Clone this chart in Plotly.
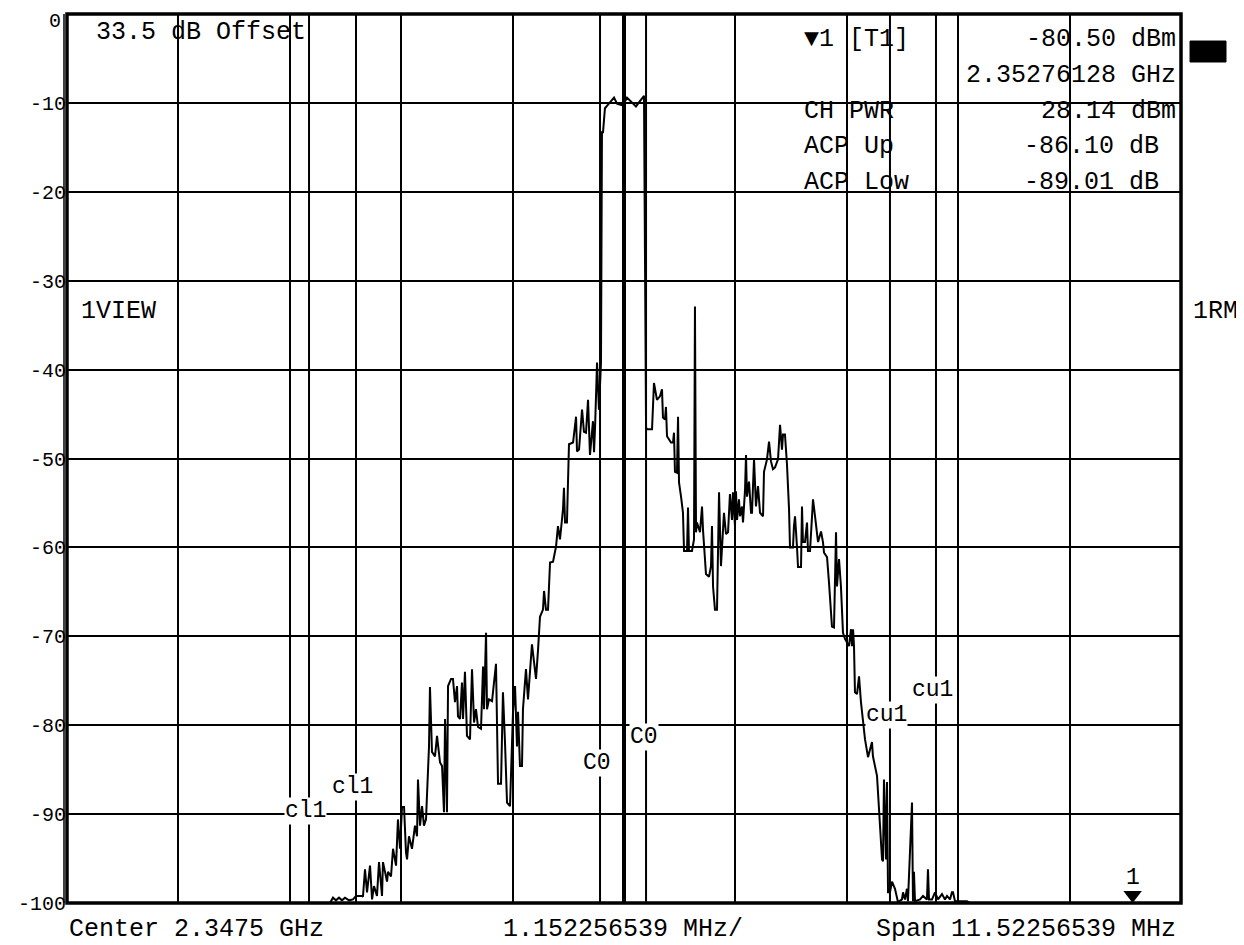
import plotly.graph_objects as go

# ---------------- data ----------------
center_ghz = 2.3475
span_mhz = 11.52256539
div_mhz = 1.152256539

freq_mhz = [
    -5.761, -3.041, -3.010, -2.979, -2.948, -2.917, -2.886, -2.844, -2.803, -2.772,
    -2.710, -2.700, -2.679, -2.658, -2.627, -2.606, -2.586, -2.555, -2.534, -2.503,
    -2.493, -2.451, -2.441, -2.410, -2.389, -2.358, -2.338, -2.317, -2.296, -2.275,
    -2.255, -2.244, -2.224, -2.193, -2.162, -2.141, -2.131, -2.110, -2.089, -2.069,
    -2.048, -2.038, -2.017, -2.007, -1.986, -1.955, -1.934, -1.903, -1.882, -1.862,
    -1.851, -1.831, -1.820, -1.789, -1.769, -1.748, -1.727, -1.717, -1.696, -1.676,
    -1.665, -1.645, -1.624, -1.593, -1.572, -1.551, -1.531, -1.510, -1.479, -1.458,
    -1.448, -1.427, -1.417, -1.396, -1.365, -1.324, -1.303, -1.272, -1.252, -1.231,
    -1.210, -1.179, -1.148, -1.127, -1.107, -1.096, -1.076, -1.055, -1.045, -1.014,
    -0.993, -0.952, -0.931, -0.910, -0.889, -0.869, -0.838, -0.827, -0.807, -0.786,
    -0.765, -0.734, -0.703, -0.683, -0.662, -0.631, -0.621, -0.610, -0.590, -0.569,
    -0.527, -0.496, -0.486, -0.465, -0.434, -0.414, -0.393, -0.372, -0.352, -0.321,
    -0.310, -0.300, -0.279, -0.259, -0.238, -0.228, -0.217, -0.197, -0.165, -0.103,
    -0.072, -0.010, 0.031, 0.083, 0.124, 0.165, 0.207, 0.228, 0.238, 0.290,
    0.310, 0.341, 0.372, 0.393, 0.403, 0.424, 0.434, 0.445, 0.486, 0.507,
    0.517, 0.527, 0.548, 0.559, 0.569, 0.590, 0.610, 0.621, 0.652, 0.662,
    0.672, 0.703, 0.724, 0.734, 0.745, 0.755, 0.786, 0.807, 0.817, 0.848,
    0.879, 0.900, 0.910, 0.921, 0.941, 0.962, 0.983, 1.003, 1.024, 1.034,
    1.055, 1.076, 1.096, 1.117, 1.127, 1.148, 1.158, 1.169, 1.189, 1.200,
    1.220, 1.231, 1.252, 1.262, 1.272, 1.293, 1.314, 1.324, 1.345, 1.365,
    1.386, 1.407, 1.438, 1.448, 1.479, 1.500, 1.520, 1.541, 1.562, 1.582,
    1.593, 1.614, 1.634, 1.645, 1.665, 1.686, 1.707, 1.717, 1.748, 1.758,
    1.769, 1.789, 1.800, 1.831, 1.841, 1.851, 1.872, 1.893, 1.903, 1.924,
    1.945, 1.955, 1.976, 1.996, 2.007, 2.038, 2.058, 2.069, 2.100, 2.120,
    2.151, 2.172, 2.193, 2.203, 2.224, 2.244, 2.265, 2.286, 2.327, 2.348,
    2.358, 2.369, 2.379, 2.389, 2.410, 2.431, 2.451, 2.493, 2.524, 2.565,
    2.575, 2.617, 2.648, 2.669, 2.679, 2.689, 2.710, 2.720, 2.731, 2.751,
    2.772, 2.803, 2.834, 2.875, 2.886, 2.906, 2.927, 2.937, 2.979, 2.989,
    2.999, 3.010, 3.062, 3.093, 3.134, 3.144, 3.155, 3.186, 3.217, 3.248,
    3.289, 3.320, 3.341, 3.372, 3.392, 3.403, 3.424, 3.548, 3.579, 5.761,
]

level_db = [
    -100, -100, -99.4, -99.7, -99.4, -99.7, -99.4, -99.7, -99.6, -99.2,
    -99.2, -99.3, -96.2, -98.8, -95.8, -99.6, -98.1, -99.2, -95.4, -99.2,
    -95.4, -97.6, -96.5, -97.0, -93.9, -95.8, -90.6, -93.9, -89.2, -89.2,
    -94.3, -95.1, -92.5, -93.9, -91.3, -92.5, -86.1, -91.3, -89.1, -91.3,
    -90.6, -87.5, -82.4, -75.7, -83.0, -83.5, -81.2, -84.2, -84.6, -89.8,
    -79.3, -89.8, -75.6, -74.8, -74.8, -77.4, -75.6, -79.0, -79.3, -75.2,
    -79.3, -74.0, -81.2, -81.6, -73.7, -79.7, -78.2, -80.2, -80.4, -73.4,
    -78.2, -69.6, -78.2, -77.1, -77.3, -73.1, -86.6, -86.6, -76.3, -81.9,
    -88.7, -89.1, -78.5, -75.6, -82.4, -78.5, -84.6, -84.6, -78.2, -73.7,
    -77.1, -70.9, -72.6, -74.8, -71.5, -67.8, -67.0, -64.9, -67.0, -67.0,
    -61.7, -61.6, -59.9, -57.6, -59.1, -55.7, -53.3, -57.2, -57.2, -48.4,
    -48.2, -45.3, -49.2, -49.0, -44.5, -47.0, -47.1, -43.4, -49.6, -45.8,
    -49.3, -46.7, -39.2, -44.5, -39.2, -13.3, -13.3, -10.6, -10.2, -9.4,
    -10.1, -10.3, -9.4, -9.9, -10.4, -9.8, -9.2, -46.5, -46.7, -46.7,
    -41.5, -43.4, -43.0, -42.2, -45.4, -45.6, -44.2, -47.5, -48.2, -48.2,
    -47.1, -51.5, -51.6, -45.3, -52.7, -54.3, -56.1, -60.4, -60.4, -55.5,
    -60.4, -60.4, -59.1, -32.9, -58.3, -57.2, -58.3, -55.4, -58.0, -63.0,
    -63.3, -62.1, -57.6, -64.4, -67.0, -67.0, -53.8, -62.1, -57.6, -56.1,
    -58.5, -58.3, -54.0, -56.9, -53.8, -57.6, -53.7, -56.9, -54.6, -56.5,
    -55.4, -57.2, -53.5, -49.6, -54.3, -52.6, -56.1, -56.1, -50.1, -55.4,
    -53.1, -56.1, -56.5, -51.5, -50.1, -48.1, -50.3, -51.2, -51.0, -50.3,
    -50.1, -46.2, -49.0, -47.3, -47.3, -50.7, -55.7, -60.0, -60.0, -57.6,
    -56.5, -59.9, -62.2, -62.2, -55.4, -59.4, -59.4, -57.2, -60.4, -60.4,
    -56.5, -54.6, -56.5, -58.3, -59.4, -58.2, -59.4, -60.6, -61.1, -63.9,
    -68.9, -69.0, -58.3, -64.4, -61.3, -64.4, -69.6, -70.3, -71.1, -69.2,
    -71.1, -69.2, -71.1, -76.3, -76.5, -74.5, -77.4, -81.6, -83.6, -81.9,
    -83.5, -85.7, -91.3, -95.1, -95.3, -86.1, -95.1, -86.4, -98.8, -98.8,
    -97.6, -98.4, -99.9, -99.6, -98.8, -99.6, -98.4, -99.8, -88.7, -99.8,
    -96.5, -99.8, -99.6, -99.2, -99.6, -96.2, -99.6, -99.6, -98.8, -99.6,
    -99.0, -99.6, -99.2, -99.6, -98.8, -98.8, -99.8, -99.8, -100, -100,
]

# channel limit lines (MHz offset from center) and their labels
channel_lines = [-3.258, -2.772, -0.248, 0.228, 2.751, 3.227]
channel_label_text = ["cl1", "cl1", "C0", "C0", "cu1", "cu1"]
channel_label_x = [-3.299, -2.813, -0.279, 0.207, 2.710, 3.186]
channel_label_y = [-89.7, -87.0, -84.2, -81.3, -78.8, -76.0]

y_ticks = [0, -10, -20, -30, -40, -50, -60, -70, -80, -90, -100]
y_ticktext = ["", "-10", "-20", "-30", "-40", "-50", "-60", "-70", "-80", "-90", "-100"]
y_top_label = "0"

marker_mhz = 5.261
marker_level_text = "-80.50 dBm"
marker_freq_text = "2.35276128 GHz"
ch_pwr_text = "28.14 dBm"
acp_up_text = "-86.10 dB"
acp_low_text = "-89.01 dB"

# ---------------- figure ----------------
FONT = "Liberation Mono"
half = span_mhz / 2

fig = go.Figure()
fig.add_trace(go.Scatter(
    x=freq_mhz, y=level_db, mode="lines",
    line=dict(color="black", width=2), hoverinfo="skip", showlegend=False,
))
# marker 1
fig.add_trace(go.Scatter(
    x=[marker_mhz], y=[-99.1], mode="markers",
    marker=dict(symbol="triangle-down", size=16, color="black"),
    cliponaxis=False, showlegend=False, hoverinfo="skip",
))

shapes = []
# frame
shapes.append(dict(type="rect", xref="paper", yref="paper", x0=0, x1=1, y0=0, y1=1,
                   line=dict(color="black", width=3.5), layer="above"))
shapes.append(dict(type="line", xref="paper", yref="paper", x0=-0.0027, x1=-0.0027,
                   y0=0, y1=1, line=dict(color="black", width=1.5), layer="above"))
# center line (thicker)
shapes.append(dict(type="line", xref="x", yref="paper", x0=0, x1=0, y0=0, y1=1,
                   line=dict(color="black", width=4)))
# channel lines
for cx in channel_lines:
    shapes.append(dict(type="line", xref="x", yref="paper", x0=cx, x1=cx, y0=0, y1=1,
                       line=dict(color="black", width=2)))
# black box at right
shapes.append(dict(type="rect", xref="paper", yref="paper",
                   x0=1.0081, x1=1.0404, y0=0.946, y1=0.9696,
                   fillcolor="black", line=dict(color="black", width=1)))

ann = []
def txt(x, y, s, xanchor="left", size=25, xref="x", yref="y", bg=None, yanchor="middle"):
    d = dict(x=x, y=y, text=s, xref=xref, yref=yref, showarrow=False,
             xanchor=xanchor, yanchor=yanchor,
             font=dict(family=FONT, size=size, color="black"), borderpad=0)
    if bg:
        d["bgcolor"] = bg
    ann.append(d)

# top "0" y label (kept inside the page)
txt(-0.0045, 1.006, y_top_label, xanchor="right", size=20, xref="paper", yref="paper",
    yanchor="top")

txt(-5.471, -2.1, "33.5 dB Offset")
txt(-5.627, -33.5, "1VIEW")
txt(1.0099, -33.5, "1RM", xref="paper")

txt(1.851, -2.9, "▼1 [T1]")
txt(5.720, -2.9, marker_level_text, xanchor="right")
txt(5.720, -6.9, marker_freq_text, xanchor="right")
txt(1.851, -11.0, "CH PWR")
txt(5.720, -11.0, ch_pwr_text, xanchor="right")
txt(1.851, -14.9, "ACP Up")
txt(5.544, -14.9, acp_up_text, xanchor="right")
txt(1.851, -18.9, "ACP Low")
txt(5.544, -18.9, acp_low_text, xanchor="right")

for lx, ly, lt in zip(channel_label_x, channel_label_y, channel_label_text):
    txt(lx, ly, lt, xanchor="center", size=23, bg="white")

txt(marker_mhz, -97.2, "1", xanchor="center", size=23)

txt(0.001, -0.030, "Center %s GHz" % center_ghz, xref="paper", yref="paper")
txt(0.499, -0.030, "%s MHz/" % div_mhz, xanchor="center", xref="paper", yref="paper")
txt(0.9964, -0.030, "Span %s MHz" % span_mhz, xanchor="right", xref="paper", yref="paper")

# page body adds an 8px offset; margins are set so the plot lands at 67..1181 x 14..903
fig.update_layout(
    width=1244, height=945,
    margin=dict(l=59, r=71, t=6, b=50, autoexpand=False),
    paper_bgcolor="white", plot_bgcolor="white",
    shapes=shapes, annotations=ann, showlegend=False,
    xaxis=dict(range=[-half, half], tick0=-half, dtick=div_mhz,
               showgrid=True, gridcolor="black", gridwidth=2,
               showticklabels=False, zeroline=False, ticks="", showline=False,
               fixedrange=True, automargin=False),
    yaxis=dict(range=[-100, 0], tickvals=y_ticks, ticktext=y_ticktext,
               showgrid=True, gridcolor="black", gridwidth=2,
               zeroline=False, ticks="", showline=False,
               tickfont=dict(family=FONT, size=20, color="black"),
               ticklabeloverflow="allow",
               fixedrange=True, automargin=False),
)

fig.write_html("out.html", config={"displayModeBar": False})
